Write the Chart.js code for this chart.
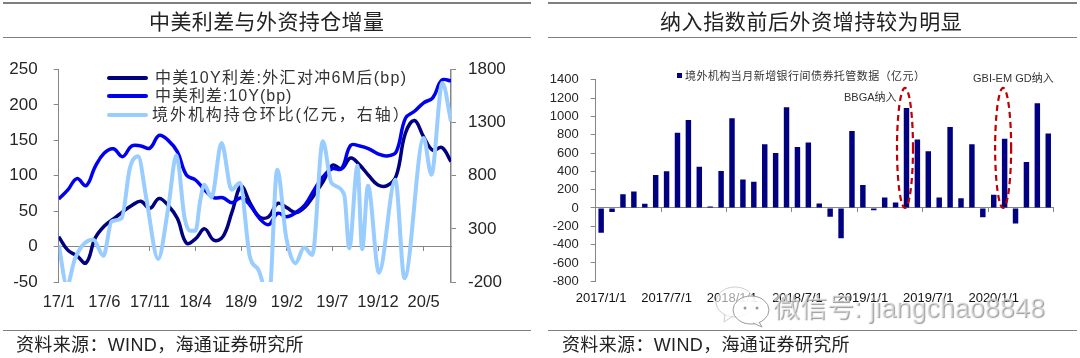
<!DOCTYPE html>
<html lang="zh">
<head>
<meta charset="utf-8">
<title>中美利差与外资持仓增量</title>
<script src="https://cdn.jsdelivr.net/npm/chart.js@4"></script>
<style>
html,body{margin:0;padding:0;background:#fff;width:1080px;height:358px;overflow:hidden}
body{position:relative;font-family:"Liberation Sans","Noto Sans CJK SC",sans-serif}
canvas{position:absolute;top:0}
.rule{position:absolute;height:1px;background:#7f7f7f}
.title{position:absolute;top:6px;font:400 21px/28px "Noto Sans CJK SC",sans-serif;color:#222;white-space:nowrap;letter-spacing:.5px}
.foot{position:absolute;top:333px;font:18px/24px "Liberation Sans","Noto Sans CJK SC",sans-serif;color:#222;white-space:nowrap;letter-spacing:.35px}
.lg{position:absolute;left:155px;font:16px/20px "Liberation Sans","Noto Sans CJK SC",sans-serif;color:#333;white-space:nowrap;letter-spacing:1px}
.sw{position:absolute;left:107px;width:41px;height:4px;border-radius:2px}
.note{position:absolute;font:11px/14px "Liberation Sans","Noto Sans CJK SC",sans-serif;color:#333;white-space:nowrap}
.sq{position:absolute;left:677px;top:73px;width:5px;height:5px;background:#000080}
.wm{position:absolute;left:773px;top:290px;font:27px/36px "Liberation Sans","Noto Sans CJK SC",sans-serif;color:rgba(245,245,245,.55);text-shadow:1px 1px 1px #999;white-space:nowrap}
.ic{position:absolute;left:715px;top:284px}
</style>
</head>
<body>
<canvas id="left" width="540" height="358" style="left:0"></canvas>
<canvas id="right" width="540" height="358" style="left:540px"></canvas>

<div class="rule" style="left:3px;width:528px;top:2px;height:2px"></div>
<div class="rule" style="left:3px;width:528px;top:37px"></div>
<div class="rule" style="left:3px;width:528px;top:330px"></div>
<div class="rule" style="left:548px;width:529px;top:2px;height:2px"></div>
<div class="rule" style="left:548px;width:529px;top:37px"></div>
<div class="rule" style="left:548px;width:529px;top:330px"></div>

<div class="title" style="left:149px;letter-spacing:.4px">中美利差与外资持仓增量</div>
<div class="title" style="left:660px;letter-spacing:.6px">纳入指数前后外资增持较为明显</div>

<div class="sw" style="top:76px;background:#000080"></div>
<div class="lg" style="top:68px;letter-spacing:1.3px">中美10Y利差:外汇对冲6M后(bp)</div>
<div class="sw" style="top:94px;background:#0000f0"></div>
<div class="lg" style="top:86px">中美利差:10Y(bp)</div>
<div class="sw" style="top:113px;background:#99ccff"></div>
<div class="lg" style="top:105px;left:152px;letter-spacing:1.95px">境外机构持仓环比(亿元&#xFF0C;右轴&#xFF09;</div>

<div class="sq"></div>
<div class="note" style="left:685px;top:69px;letter-spacing:.45px">境外机构当月新增银行间债券托管数据&#xFF08;亿元&#xFF09;</div>
<div class="note" style="left:844px;top:90px">BBGA纳入</div>
<div class="note" style="left:973px;top:71px">GBI-EM GD纳入</div>

<div class="foot" style="left:16px">资料来源&#xFF1A;WIND&#xFF0C;海通证券研究所</div>
<div class="foot" style="left:562px">资料来源&#xFF1A;WIND&#xFF0C;海通证券研究所</div>

<svg class="ic" width="56" height="44" viewBox="0 0 56 44">
<ellipse cx="20" cy="18" rx="19" ry="15" fill="rgba(255,255,255,.6)" stroke="#ccc"/>
<path d="M10 30 L9 38 L18 32" fill="rgba(255,255,255,.6)" stroke="#ccc"/>
<ellipse cx="36" cy="26" rx="18" ry="14" fill="rgba(255,255,255,.85)" stroke="#999"/>
<path d="M44 38 L47 43 L38 39" fill="#fff" stroke="#999"/>
<circle cx="30" cy="24" r="1.5" fill="#999"/><circle cx="42" cy="24" r="1.5" fill="#999"/>
</svg>
<div class="wm">微信号: jiangchao8848</div>

<script>
// ---------- left chart ----------
const spreadTickLabels = ['17/1','17/6','17/11','18/4','18/9','19/2','19/7','19/12','20/5'];
const hedgedSpread = [14,-5,-13,-23,12,29,39,49,58,64,54,68,58,40,5,11,25,9,14,49,85,61,42,42,61,55,48,56,73,92,115,110,125,115,100,87,86,100,160,178,155,136,140,120];
const spreadTenYear = [67,80,96,86,113,132,138,127,142,142,139,157,150,134,101,94,80,69,69,62,69,58,40,31,47,42,48,59,80,99,110,110,143,142,138,131,128,134,181,191,203,210,235,234];
const holdingMonths = [0,0.9,1.8,3.25,3.8,4.9,5.8,6.9,7.8,8.7,9.6,10.9,12,12.9,13.8,14.4,15,15.5,15.95,16.75,17.85,18.95,19.85,20.95,21.9,23.05,23.95,24.95,25.95,26.9,27.8,28.95,29.9,31.3,31.85,32.75,33.26,33.9,35.1,36.9,37.9,40,40.85,42.05,43];
const holdingChange = [150,-230,24,190,197,46,370,400,873,983,590,17,495,992,401,282,282,558,716,596,1108,669,731,40,-86,-354,857,212,-23,124,55,1125,731,620,118,894,108,706,-112,762,-165,1155,810,1674,1313];

// ---------- right chart ----------
const custodyMonths = ['2017/1/1','2017/2/1','2017/3/1','2017/4/1','2017/5/1','2017/6/1','2017/7/1','2017/8/1','2017/9/1','2017/10/1','2017/11/1','2017/12/1','2018/1/1','2018/2/1','2018/3/1','2018/4/1','2018/5/1','2018/6/1','2018/7/1','2018/8/1','2018/9/1','2018/10/1','2018/11/1','2018/12/1','2019/1/1','2019/2/1','2019/3/1','2019/4/1','2019/5/1','2019/6/1','2019/7/1','2019/8/1','2019/9/1','2019/10/1','2019/11/1','2019/12/1','2020/1/1','2020/2/1','2020/3/1','2020/4/1','2020/5/1','2020/6/1'];
const custodyAdded = [-270,-45,150,180,45,360,400,820,960,450,15,405,980,310,285,695,600,1100,665,715,50,-95,-330,840,250,-25,115,60,1092,747,620,115,885,105,696,-100,145,755,-170,503,1143,813];
const indexInclusion = [
  {month:'2019/5/1', top:1310, bottom:0},
  {month:'2020/2/1', top:1310, bottom:0}
];

const AXIS = '#868686', TEXT = '#262626';
const fixWidth = w => s => { s.width = w; };
const fixHeight = h => s => { s.height = h; };
const indexed = arr => arr.map((y,x) => ({x,y}));

new Chart(document.getElementById('left'), {
  type:'line',
  data:{datasets:[
    {label:'中美10Y利差:外汇对冲6M后(bp)', data:indexed(hedgedSpread), yAxisID:'y', borderColor:'#000080', borderWidth:3.5, pointRadius:0, tension:.4, order:3},
    {label:'中美利差:10Y(bp)', data:indexed(spreadTenYear), yAxisID:'y', borderColor:'#0000f0', borderWidth:3.5, pointRadius:0, tension:.4, order:2},
    {label:'境外机构持仓环比(亿元,右轴)', data:holdingMonths.map((x,i)=>({x,y:holdingChange[i]})), yAxisID:'y1', borderColor:'#99ccff', borderWidth:4, pointRadius:0, cubicInterpolationMode:'monotone', order:1}
  ]},
  options:{
    responsive:false, animation:false, events:[],
    layout:{padding:{top:69.5,left:0,right:0,bottom:0}},
    plugins:{legend:{display:false},tooltip:{enabled:false}},
    scales:{
      x:{type:'linear',position:'bottom',min:0,max:43,afterFit:fixHeight(76),
        border:{display:false},grid:{display:false},
        ticks:{stepSize:5,includeBounds:false,autoSkip:false,maxRotation:0,padding:3,color:TEXT,font:{size:16.5,family:'"Liberation Sans"'},
          callback:v=>spreadTickLabels[v/5]}},
      xZero:{type:'linear',position:{y:0},min:0,max:43,
        border:{display:true,color:AXIS,width:1},
        grid:{drawOnChartArea:false,drawTicks:true,tickLength:4,color:AXIS},
        ticks:{display:false,stepSize:5,includeBounds:false,autoSkip:false}},
      y:{position:'left',min:-50,max:250,afterFit:fixWidth(58.7),
        border:{color:AXIS,width:1},grid:{drawOnChartArea:false,tickLength:5,color:AXIS},
        ticks:{stepSize:50,autoSkip:false,padding:16,color:TEXT,font:{size:17,family:'"Liberation Sans"'},callback:v=>String(v)}},
      y1:{position:'right',min:-200,max:1800,afterFit:fixWidth(89),
        border:{color:AXIS,width:1.5},grid:{drawOnChartArea:false,tickLength:5,color:AXIS},
        ticks:{stepSize:500,autoSkip:false,padding:12,color:TEXT,font:{size:17,family:'"Liberation Sans"'},callback:v=>String(v)}}
    }
  }
});

const ellipsePlugin = {
  id:'inclusionEllipses',
  afterDatasetsDraw(chart){
    const {ctx,scales:{x,y}} = chart;
    ctx.save();
    ctx.strokeStyle='#c00000'; ctx.lineWidth=2.2; ctx.setLineDash([6,4]);
    indexInclusion.forEach(m=>{
      const cx=x.getPixelForValue(custodyMonths.indexOf(m.month))-1.5;
      const top=y.getPixelForValue(m.top), bot=y.getPixelForValue(m.bottom);
      ctx.beginPath();
      ctx.ellipse(cx,(top+bot)/2,8,(bot-top)/2,0,0,Math.PI*2);
      ctx.stroke();
    });
    ctx.restore();
  }
};

new Chart(document.getElementById('right'), {
  type:'bar',
  data:{labels:custodyMonths,datasets:[
    {label:'境外机构当月新增银行间债券托管数据(亿元)',data:custodyAdded,backgroundColor:'#000080',barPercentage:.5,categoryPercentage:1}
  ]},
  plugins:[ellipsePlugin],
  options:{
    responsive:false, animation:false, events:[],
    layout:{padding:{top:79.7,left:0,right:26.3,bottom:0}},
    plugins:{legend:{display:false},tooltip:{enabled:false}},
    scales:{
      x:{position:'bottom',offset:true,afterFit:fixHeight(76.7),
        border:{display:false},grid:{display:false},
        ticks:{autoSkip:false,maxRotation:0,padding:1,color:'#111',font:{size:13,family:'"Liberation Sans"'},
          callback(v,i){return i%6===0?custodyMonths[i]:'';}}},
      xZero:{type:'category',position:{y:0},offset:true,
        border:{display:true,color:AXIS,width:1},
        grid:{offset:true,drawOnChartArea:false,drawTicks:true,tickLength:4,color:AXIS,
          tickColor:c=>(c.index===undefined||c.index%6===0)?AXIS:'rgba(0,0,0,0)'},
        ticks:{display:false,autoSkip:false}},
      y:{position:'left',min:-800,max:1400,afterFit:fixWidth(55.7),
        border:{color:AXIS,width:1},grid:{drawOnChartArea:false,tickLength:5,color:AXIS},
        ticks:{stepSize:200,autoSkip:false,padding:12,color:TEXT,font:{size:13,family:'"Liberation Sans"'},callback:v=>String(v)}}
    }
  }
});
</script>
</body>
</html>
